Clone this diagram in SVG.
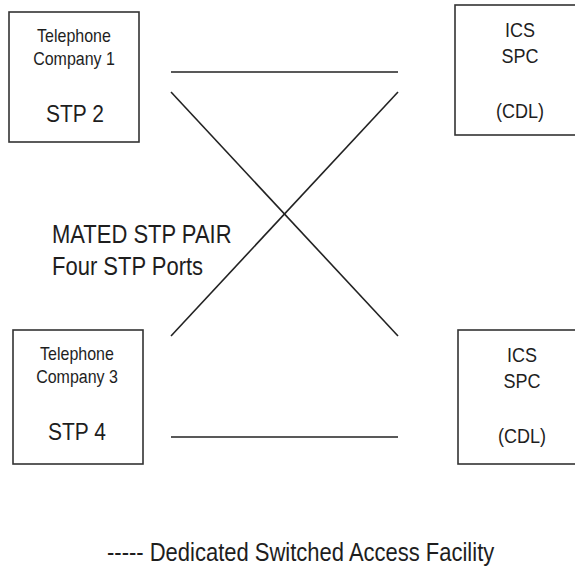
<svg xmlns="http://www.w3.org/2000/svg" width="575" height="571" viewBox="0 0 575 571">
<style>
.box{fill:#fff;stroke:#333;stroke-width:1.6}
.ln{stroke:#222;stroke-width:1.6;fill:none}
text{font-family:"Liberation Sans",Arial,sans-serif;fill:#1e1e1e}
.s{font-size:16px;text-anchor:middle}
.m{font-size:18px;text-anchor:middle}
.b{font-size:21px;text-anchor:middle}
.l{font-size:22px}
</style>
<rect width="575" height="571" fill="#fff"/>
<g id="connectors">
<line class="ln" x1="171" y1="72" x2="398" y2="72"/>
<line class="ln" x1="171" y1="92" x2="398" y2="336"/>
<line class="ln" x1="171" y1="336" x2="398" y2="92"/>
<line class="ln" x1="171" y1="437" x2="398" y2="437"/>
</g>
<g id="tc1">
<rect class="box" x="9" y="12" width="130" height="130"/>
<text class="s" transform="translate(74,42) scale(1,1.14)">Telephone</text>
<text class="s" transform="translate(74,65) scale(1,1.14)">Company 1</text>
<text class="b" transform="translate(75,122) scale(1,1.15)">STP 2</text>
</g>
<g id="ics1">
<rect class="box" x="455" y="5" width="140" height="130"/>
<text class="m" transform="translate(520,37) scale(1,1.1)">ICS</text>
<text class="m" transform="translate(520,63) scale(1,1.1)">SPC</text>
<text class="m" transform="translate(520,118) scale(1,1.1)">(CDL)</text>
</g>
<g id="tc3">
<rect class="box" x="13" y="330" width="130" height="134"/>
<text class="s" transform="translate(77,360) scale(1,1.14)">Telephone</text>
<text class="s" transform="translate(77,383) scale(1,1.14)">Company 3</text>
<text class="b" transform="translate(77,440) scale(1,1.15)">STP 4</text>
</g>
<g id="ics2">
<rect class="box" x="458" y="330" width="140" height="134"/>
<text class="m" transform="translate(522,362) scale(1,1.1)">ICS</text>
<text class="m" transform="translate(522,388) scale(1,1.1)">SPC</text>
<text class="m" transform="translate(522,443) scale(1,1.1)">(CDL)</text>
</g>
<g id="label">
<text class="l" transform="translate(52,243) scale(1,1.15)">MATED STP PAIR</text>
<text class="l" transform="translate(52,275) scale(1,1.15)">Four STP Ports</text>
</g>
<g id="legend">
<text class="l" transform="translate(107,561) scale(1,1.15)">----- Dedicated Switched Access Facility</text>
</g>
</svg>
